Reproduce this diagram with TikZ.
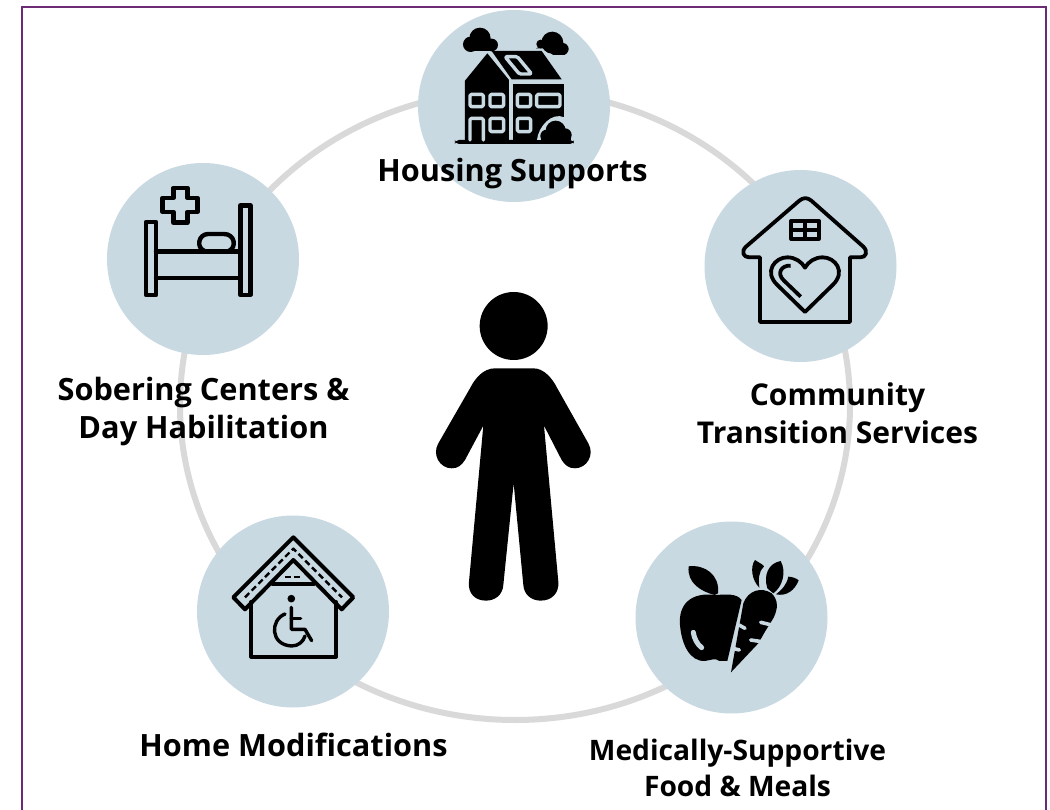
\documentclass[tikz,border=0pt]{standalone}
\usepackage{fontspec}
\usetikzlibrary{shapes.geometric}
\setmainfont{Open Sans}
\definecolor{disc}{HTML}{C8D9E2}
\definecolor{ringc}{HTML}{D9D9D9}
\definecolor{framec}{HTML}{6B2C73}
\tikzset{
  discnode/.style={circle,fill=disc,inner sep=0pt,minimum size=192pt},
  lab/.style={font=\bfseries\fontsize{30.7}{38}\selectfont,align=center,text=black,inner sep=0pt},
  ic/.style={draw=black,line width=4.4pt,line join=round,line cap=round},
  thin/.style={draw=black,line width=2.4pt,line join=round},
  gap/.style={draw=disc,line width=3.4pt,line join=round,line cap=round},
}
\begin{document}
\begin{tikzpicture}[x=1pt,y=-1pt]
\useasboundingbox (0,0) rectangle (1050,810);
\fill[white] (0,0) rectangle (1050,810);
\draw[framec,line width=2pt] (22,7) rectangle (1046,815);
\node[ellipse,draw=ringc,line width=6pt,minimum width=670pt,minimum height=630pt,inner sep=0pt] (ring) at (515,405) {};
\node[discnode] (d1) at (514,106) {};
\node[discnode] (d2) at (203,259) {};
\node[discnode] (d3) at (800.5,266) {};
\node[discnode] (d4) at (293,611.5) {};
\node[discnode] (d5) at (731.5,617.5) {};
% person
\begin{scope}[shift={(420,280)},x=0.3333pt,y=-0.3333pt]
 \fill (281,138) circle (102);
 \fill (225,265) -- (340,265) .. controls (372,265) and (397,295) .. (412,325)
  -- (505,490) .. controls (525,525) and (500,565) .. (465,565) .. controls (445,565) and (435,555) .. (425,540)
  -- (372,437) -- (415,905) .. controls (418,940) and (395,962) .. (362,962) .. controls (335,962) and (312,945) .. (310,915)
  -- (281,610) -- (250,915) .. controls (248,945) and (225,962) .. (198,962) .. controls (165,962) and (143,940) .. (147,905)
  -- (190,437) -- (135,540) .. controls (125,555) and (115,565) .. (95,565) .. controls (60,565) and (35,525) .. (55,490)
  -- (150,325) .. controls (165,295) and (190,265) .. (225,265) -- cycle;
\end{scope}
% housing icon
\begin{scope}[shift={(410,0)},x=0.3333pt,y=-0.3333pt]
 \fill[rounded corners=4pt] (135,420) rectangle (492,432);
 \fill (165,242) -- (232,160) -- (297,240) -- (297,420) -- (165,420) -- cycle;
 \fill (245,153) -- (395,153) -- (455,238) -- (305,238) -- cycle;
 \fill (308,252) -- (463,252) -- (463,420) -- (308,420) -- cycle;
 \fill (210,115) circle (32);
 \fill (182,133) circle (23);
 \fill (245,135) circle (19);
 \fill (182,128) rectangle (245,154);
 \fill (427,128) circle (33);
 \fill (458,147) circle (18);
 \fill (392,132) circle (13);
 \fill (378,145) -- (440,118) -- (465,165) -- (430,165) -- (400,145) -- cycle;
 \begin{scope}[gap,rounded corners=1.5pt]
  \draw (180,283) rectangle (220,320);
  \draw (240,283) rectangle (281,320);
  \draw (322,283) rectangle (362,320);
  \draw (380,283) rectangle (450,320);
  \draw (240,355) rectangle (281,395);
  \draw (322,355) rectangle (362,395);
  \draw (180,420) -- (180,355) -- (220,355) -- (220,420);
  \draw (285,170) -- (322,170) -- (365,222) -- (328,222) -- cycle;
 \end{scope}
 \fill[disc] (381,420) .. controls (385,380) and (425,335) .. (463,352) -- (470,420) -- cycle;
 \fill (437,392) circle (30);
 \fill (410,408) circle (19);
 \fill (465,405) circle (20);
 \fill (392,408) rectangle (484,420);
\end{scope}
% bed
\begin{scope}[shift={(100,160)},x=0.3333pt,y=-0.3333pt]
 \begin{scope}[ic]
  \draw (138,186) rectangle (168,405);
  \draw (421,136) rectangle (451,405);
  \draw (168,274) -- (421,274);
  \draw (168,354) -- (421,354);
  \draw (312,272) .. controls (288,262) and (295,222) .. (325,222) -- (372,222) .. controls (405,222) and (410,262) .. (388,272);
  \draw (220,84) -- (262,84) -- (262,114) -- (292,114) -- (292,156) -- (262,156) -- (262,188) -- (220,188) -- (220,156) -- (188,156) -- (188,114) -- (220,114) -- cycle;
 \end{scope}
\end{scope}
% community house
\begin{scope}[shift={(700,170)},x=0.3333pt,y=-0.3333pt]
 \begin{scope}[ic,line width=3.8pt,line cap=butt]
  \draw (180,262) -- (148,262) .. controls (130,262) and (122,245) .. (138,230)
    -- (298,92) .. controls (310,82) and (322,82) .. (334,92)
    -- (490,230) .. controls (505,245) and (498,262) .. (482,262) -- (450,262)
    -- (450,456) -- (180,456) -- cycle;
  \draw (274,152) rectangle (356,207);
  \draw (274,180) -- (356,180);
  \draw (315,152) -- (315,207);
  \draw (315,426) -- (232,345) .. controls (190,305) and (225,262) .. (262,262) .. controls (285,262) and (305,275) .. (315,293) .. controls (325,275) and (345,262) .. (368,262) .. controls (405,262) and (440,305) .. (398,345) -- cycle;
  \draw (302,380) -- (252,332) .. controls (228,310) and (245,285) .. (272,287);
 \end{scope}
\end{scope}
% wheelchair house
\begin{scope}[shift={(190,510)},x=0.3333pt,y=-0.3333pt]
 \begin{scope}[ic,line width=4pt]
  \draw (310,82) -- (490,262) -- (455,298) -- (310,150) -- (165,298) -- (130,262) -- cycle;
  \draw (184,276) -- (184,440) -- (438,440) -- (438,276);
  \draw (248,222) -- (372,222);
 \end{scope}
 \draw[thin,dash pattern=on 6pt off 3.5pt] (165,262) -- (310,116) -- (456,262);
 \draw[thin,line width=2pt,dash pattern=on 6.5pt off 2.5pt] (285,202) -- (338,202);
 \fill (304,266) circle (11.5);
 \begin{scope}[ic,line width=3.4pt]
  \draw (304,292) -- (304,358) -- (345,358) -- (365,392);
  \draw (304,326) -- (332,326);
  \draw (285,312) .. controls (240,330) and (240,405) .. (305,408) .. controls (325,408) and (340,395) .. (345,378);
 \end{scope}
\end{scope}
% food
\begin{scope}[shift={(630,525)},x=0.3333pt,y=-0.3333pt]
 % apple
 \fill (258,210) .. controls (180,200) and (145,240) .. (150,300) .. controls (155,360) and (180,410) .. (225,408)
   .. controls (245,405) and (255,398) .. (268,408) -- (292,408) -- (335,225) .. controls (320,205) and (290,208) .. (258,210) -- cycle;
 \fill (254,210) .. controls (215,200) and (170,175) .. (176,124) .. controls (225,118) and (270,150) .. (264,205) -- cycle;
 \draw[gap,line width=5pt] (190,322) .. controls (192,340) and (202,358) .. (215,368);
 % carrot
 \fill (303,442) -- (340,235) .. controls (355,195) and (395,185) .. (425,205) .. controls (445,225) and (445,250) .. (430,280)
    -- (405,320) -- (385,355) -- cycle;
 \draw[gap,line width=3.6pt] (327,300) -- (345,310);
 \draw[gap,line width=3.6pt] (392,292) -- (425,300);
 \draw[gap,line width=3.6pt] (362,345) -- (395,350);
 \draw[gap,line width=3.6pt] (308,370) -- (328,375);
 % leaves
 \fill (388,188) .. controls (365,165) and (360,125) .. (375,105) .. controls (390,115) and (402,120) .. (402,125) .. controls (385,140) and (385,165) .. (388,188) -- cycle;
 \fill (412,190) .. controls (400,150) and (415,115) .. (452,108) .. controls (470,140) and (458,185) .. (430,205) -- cycle;
 \fill (438,208) .. controls (455,195) and (470,180) .. (475,155) .. controls (485,155) and (500,160) .. (506,166) .. controls (495,195) and (470,215) .. (438,208) -- cycle;
\end{scope}
\node[lab] (t1) at (512.5,174) {Housing Supports};
\node[lab] (t2) at (203.5,412) {Sobering Centers \&\\Day Habilitation};
\node[lab,font=\bfseries\fontsize{30}{38}\selectfont] (t3) at (837.5,413) {Community\\Transition Services};
\node[lab] (t4) at (293.5,745) {Home Modifications};
\node[lab,font=\bfseries\fontsize{28.2}{36}\selectfont] (t5) at (737.5,768) {Medically-Supportive\\Food \& Meals};
\end{tikzpicture}
\end{document}
